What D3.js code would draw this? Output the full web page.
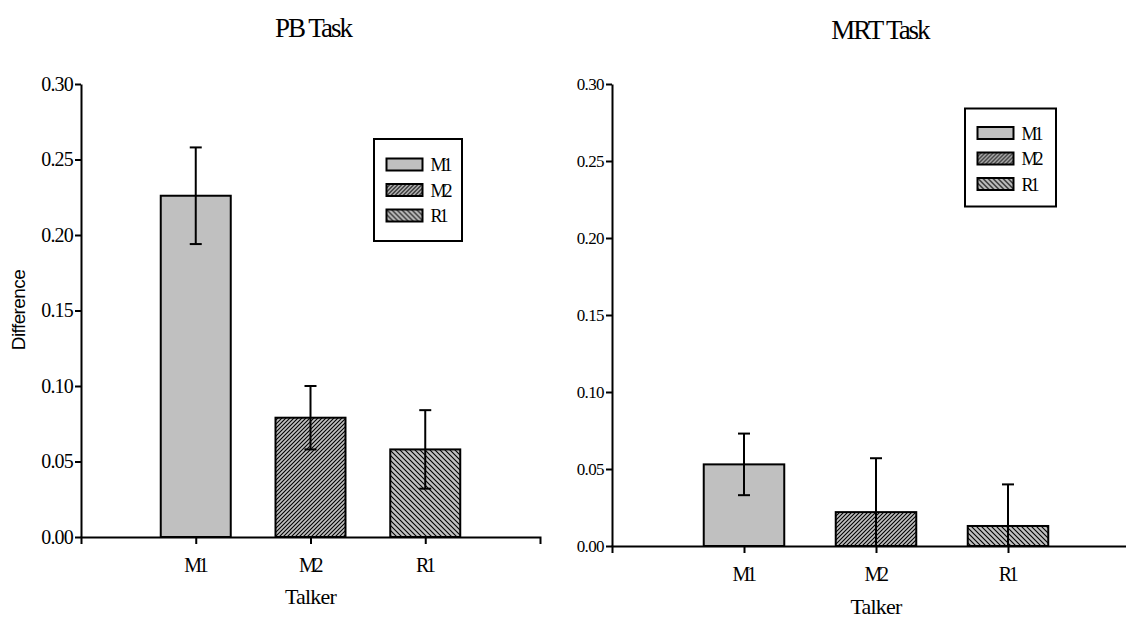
<!DOCTYPE html>
<html lang="en">

<head>
    <meta charset="UTF-8">
    <title>PB / MRT Task</title>
    <script src="https://cdn.jsdelivr.net/npm/d3@7"></script>
    <style>
        body { margin: 0; background: #fff; }
        svg { display: block; }
    </style>
</head>

<body>
    <svg id="chart" width="1126" height="622"></svg>

    <script>
        // data
        const talkers = ['M1', 'M2', 'R1']
        const pbMeans = [0.226, 0.079, 0.058]
        const pbErrors = [0.032, 0.021, 0.026]
        const mrtMeans = [0.053, 0.022, 0.013]
        const mrtErrors = [0.020, 0.035, 0.027]
        const yTicks = [0, 0.05, 0.10, 0.15, 0.20, 0.25, 0.30]
        const fills = ['#c0c0c0', 'url(#hatchM2)', 'url(#hatchR1)']

        const SERIF = "'Liberation Serif', 'Times New Roman', serif"
        const SANS = "'Liberation Sans', Arial, sans-serif"

        const svg = d3.select('#chart')
        const defs = svg.append('defs')

        // hatch patterns: grey ground with black diagonal lines
        const makeHatch = (id, size, forward) => {
            const p = defs.append('pattern')
                .attr('id', id)
                .attr('patternUnits', 'userSpaceOnUse')
                .attr('width', size)
                .attr('height', size)
            p.append('rect').attr('width', size).attr('height', size).attr('fill', '#c0c0c0')
            const s = size
            const d = forward
                ? `M-1,1 l2,-2 M0,${s} l${s},${-s} M${s - 1},${s + 1} l2,-2`
                : `M-1,${s - 1} l2,2 M0,0 l${s},${s} M${s - 1},-1 l2,2`
            p.append('path').attr('d', d).attr('stroke', '#000').attr('stroke-width', 1.1)
        }
        makeHatch('hatchM2', 4, true)
        makeHatch('hatchR1', 5, false)

        const serifText = (sel, size, ls) => sel
            .style('font-family', SERIF)
            .style('font-size', size + 'px')
            .style('letter-spacing', ls + 'px')
            .attr('fill', '#000')

        const drawPanel = (cfg) => {
            const g = svg.append('g')

            const y = d3.scaleLinear().domain([0, 0.30]).range([cfg.y0, cfg.y1])
            const x = d3.scalePoint().domain(talkers).range([cfg.x0, cfg.x1]).padding(1)
            const barW = x.step() * 0.61

            const data = talkers.map((t, i) => ({ t, v: cfg.means[i], e: cfg.errors[i], fill: fills[i] }))

            // bars
            g.selectAll('rect.bar')
                .data(data)
                .join('rect')
                .attr('class', 'bar')
                .attr('x', d => x(d.t) - barW / 2)
                .attr('y', d => y(d.v))
                .attr('width', barW)
                .attr('height', d => y(0) - y(d.v))
                .attr('fill', d => d.fill)
                .attr('stroke', '#000')
                .attr('stroke-width', 2)

            // error bars (lower end stops at the axis)
            const eb = g.selectAll('g.err').data(data).join('g').attr('class', 'err')
                .attr('stroke', '#000').attr('stroke-width', 2)
            eb.append('line')
                .attr('x1', d => x(d.t)).attr('x2', d => x(d.t))
                .attr('y1', d => y(d.v + d.e))
                .attr('y2', d => y(Math.max(0, d.v - d.e)))
            eb.append('line')
                .attr('x1', d => x(d.t) - 6).attr('x2', d => x(d.t) + 6)
                .attr('y1', d => y(d.v + d.e)).attr('y2', d => y(d.v + d.e))
            eb.filter(d => d.v - d.e > 0).append('line')
                .attr('x1', d => x(d.t) - 6).attr('x2', d => x(d.t) + 6)
                .attr('y1', d => y(d.v - d.e)).attr('y2', d => y(d.v - d.e))

            // axes
            const yAxis = g.append('g')
                .attr('transform', `translate(${cfg.x0},0)`)
                .call(d3.axisLeft(y).tickValues(yTicks).tickFormat(d3.format('.2f')).tickSize(6).tickSizeOuter(0).tickPadding(2))
            const xAxis = g.append('g')
                .attr('transform', `translate(0,${cfg.y0})`)
                .call(d3.axisBottom(x).tickSize(7).tickSizeOuter(7).tickPadding(14))

            for (const ax of [yAxis, xAxis]) {
                ax.select('.domain').attr('stroke-width', 2)
                ax.selectAll('.tick line').attr('stroke-width', 2)
            }
            serifText(yAxis.selectAll('text'), cfg.yTickSize, cfg.yTickLs)
            serifText(xAxis.selectAll('text'), 20, -3.5).attr('dx', -1.5)

            // title and axis title
            serifText(g.append('text'), 27, -2)
                .attr('x', cfg.titleX).attr('y', cfg.titleY)
                .attr('text-anchor', 'middle')
                .text(cfg.title)
            serifText(g.append('text'), 22, -0.8)
                .attr('x', x(talkers[1])).attr('y', cfg.talkerY)
                .attr('text-anchor', 'middle')
                .text('Talker')

            // legend
            const lg = g.append('g').attr('transform', `translate(${cfg.legX},${cfg.legY})`)
            lg.append('rect').attr('width', cfg.legW).attr('height', cfg.legH)
                .attr('fill', '#fff').attr('stroke', '#000').attr('stroke-width', 2)
            const rows = lg.selectAll('g.row').data(data).join('g').attr('class', 'row')
                .attr('transform', (d, i) => `translate(12.5,${cfg.legTop + i * 25.5})`)
            rows.append('rect').attr('width', 36).attr('height', 12)
                .attr('fill', d => d.fill).attr('stroke', '#000').attr('stroke-width', 2)
            serifText(rows.append('text'), 18, -3)
                .attr('x', 44).attr('y', 12.5)
                .text(d => d.t)

            return g
        }

        drawPanel({
            title: 'PB Task', means: pbMeans, errors: pbErrors,
            x0: 81, x1: 540, y0: 537, y1: 84,
            titleX: 313, titleY: 37, talkerY: 604,
            yTickSize: 20, yTickLs: -0.8,
            legX: 374, legY: 139, legW: 88, legH: 102, legTop: 19.5
        })

        drawPanel({
            title: 'MRT Task', means: mrtMeans, errors: mrtErrors,
            x0: 612, x1: 1140, y0: 546, y1: 84,
            titleX: 880, titleY: 39, talkerY: 614,
            yTickSize: 17, yTickLs: -0.6,
            legX: 965, legY: 108.5, legW: 91, legH: 98, legTop: 18.5
        })

        // y axis title (left panel only)
        svg.append('text')
            .attr('transform', 'translate(25,310) rotate(-90)')
            .attr('text-anchor', 'middle')
            .style('font-family', SANS)
            .style('font-size', '19px')
            .style('letter-spacing', '-0.6px')
            .text('Difference')
    </script>
</body>

</html>
